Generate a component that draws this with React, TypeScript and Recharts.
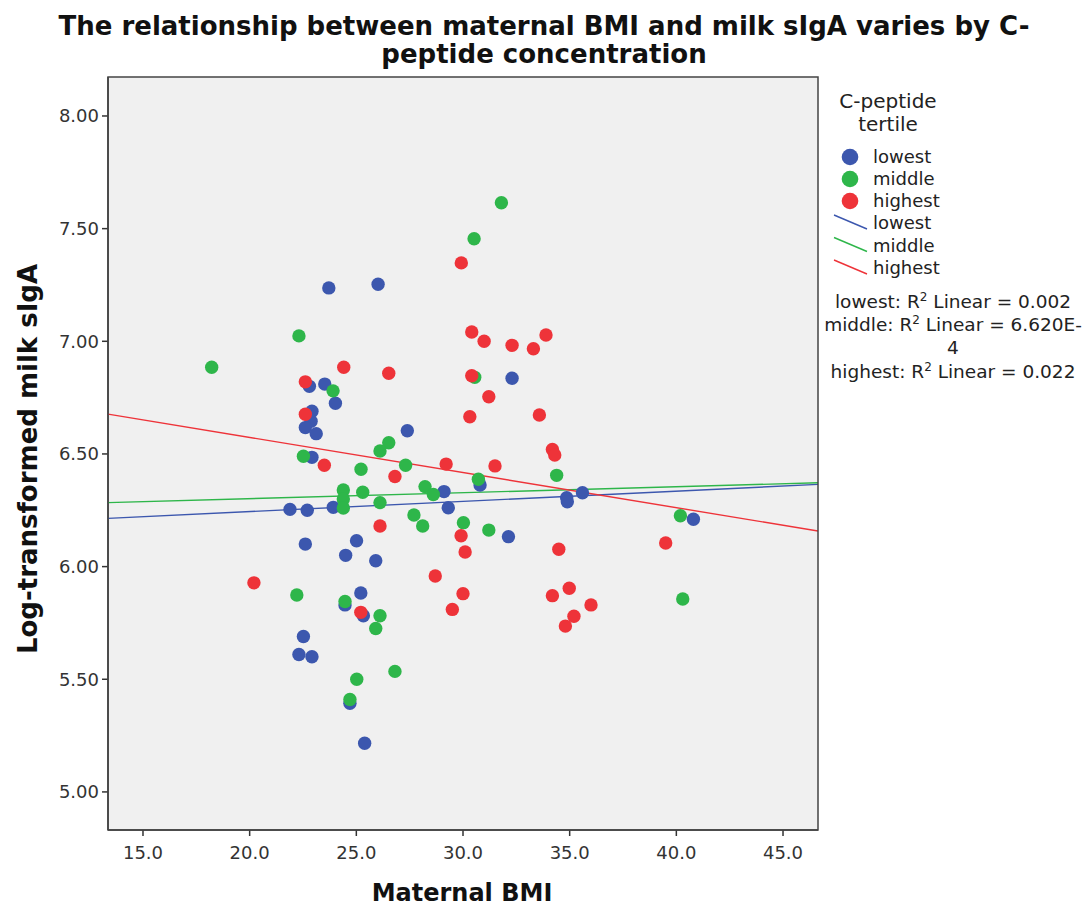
import React from 'react';
import { ScatterChart, Scatter, XAxis, YAxis, CartesianGrid } from 'recharts';

// ---- data ----
const lowestBMI = [23.71, 26.02, 22.80, 23.52, 24.02, 22.92, 22.88, 22.61, 23.12, 22.92, 23.92, 21.89, 22.70, 22.61, 24.50, 24.47, 22.52, 22.31, 22.92, 24.70, 25.39, 27.39, 32.30, 29.11, 30.80, 29.31, 32.13, 25.01, 25.91, 25.21, 25.33, 34.86, 34.89, 35.60, 40.80];
const lowestIgA = [7.237, 7.253, 6.80, 6.81, 6.725, 6.69, 6.645, 6.617, 6.59, 6.485, 6.263, 6.254, 6.25, 6.10, 6.05, 5.83, 5.69, 5.61, 5.60, 5.393, 5.216, 6.603, 6.836, 6.333, 6.362, 6.261, 6.133, 6.115, 6.026, 5.883, 5.782, 6.306, 6.288, 6.328, 6.21];

const middleBMI = [22.31, 18.22, 23.91, 22.52, 24.39, 24.39, 24.39, 22.21, 24.47, 31.80, 30.52, 30.55, 26.52, 26.11, 25.22, 27.31, 25.30, 26.11, 28.22, 28.61, 30.72, 27.70, 28.11, 30.02, 31.21, 26.11, 25.91, 25.02, 26.81, 24.70, 34.39, 40.19, 40.30];
const middleIgA = [7.024, 6.885, 6.78, 6.49, 6.34, 6.30, 6.26, 5.874, 5.845, 7.615, 7.455, 6.84, 6.55, 6.513, 6.432, 6.45, 6.33, 6.284, 6.355, 6.32, 6.388, 6.229, 6.18, 6.195, 6.162, 5.782, 5.725, 5.50, 5.535, 5.41, 6.405, 6.226, 5.856];

const highestBMI = [24.41, 22.61, 22.61, 23.50, 20.20, 29.92, 30.41, 30.99, 32.30, 33.30, 33.89, 26.52, 30.41, 31.21, 30.32, 33.58, 34.19, 34.30, 29.21, 31.50, 26.81, 26.11, 29.91, 30.10, 28.70, 30.00, 29.50, 25.21, 34.49, 34.98, 34.19, 35.20, 34.80, 39.50, 36.00];
const highestIgA = [6.885, 6.82, 6.676, 6.45, 5.928, 7.348, 7.041, 7.00, 6.982, 6.967, 7.028, 6.858, 6.847, 6.754, 6.665, 6.673, 6.52, 6.495, 6.455, 6.447, 6.40, 6.18, 6.137, 6.065, 5.958, 5.88, 5.81, 5.797, 6.077, 5.904, 5.871, 5.78, 5.736, 6.105, 5.83];

// fit lines (endpoints at the plot's x range)
const fitX = [13.36, 46.64];
const lowestFit = [6.214, 6.365];
const middleFit = [6.284, 6.372];
const highestFit = [6.677, 6.158];

const xTicks = [15, 20, 25, 30, 35, 40, 45];
const yTicks = [5.0, 5.5, 6.0, 6.5, 7.0, 7.5, 8.0];
const X_DOMAIN: [number, number] = [13.36, 46.64];
const Y_DOMAIN: [number, number] = [4.831, 8.173];

const groups = ['lowest', 'middle', 'highest'];
const r2Lines = ['lowest: R', ' Linear = 0.002', 'middle: R', ' Linear = 6.620E-', '4', 'highest: R', ' Linear = 0.022'];

// ---- styles ----
const W = 1090;
const H = 906;
const PL = 108, PT = 77, PR = 818, PB = 830;
const FONT = "'DejaVu Sans', sans-serif";
const BLUE = '#3c57ae';
const GREEN = '#2eb64a';
const RED = '#ee3339';
const DOT_R = 6.7;

const toPts = (xs: number[], ys: number[]) => xs.map((x, i) => ({ x, y: ys[i] }));

const dot = (color: string) => (props: any) => (
  <circle cx={props.cx} cy={props.cy} r={DOT_R} fill={color} />
);
const noShape = () => <g />;

export default function App() {
  const tickStyle = { fontSize: 18, fill: '#333', fontFamily: FONT };
  return (
    <div style={{ position: 'absolute', left: 0, top: 0, width: W, height: H, background: '#fff' }}>
      <ScatterChart
        width={W}
        height={H}
        margin={{ top: PT, right: W - PR, bottom: 0, left: 0 }}
      >
        <CartesianGrid horizontal={false} vertical={false} fill="#f0f0f0" />
        <XAxis
          type="number"
          dataKey="x"
          domain={X_DOMAIN}
          allowDataOverflow
          ticks={xTicks}
          tickFormatter={(v: number) => v.toFixed(1)}
          height={H - PB}
          tickSize={6}
          tickMargin={10}
          tick={tickStyle}
          axisLine={{ stroke: '#333', strokeWidth: 1.5 }}
          tickLine={{ stroke: '#333', strokeWidth: 1.5 }}
        />
        <YAxis
          type="number"
          dataKey="y"
          domain={Y_DOMAIN}
          allowDataOverflow
          ticks={yTicks}
          tickFormatter={(v: number) => v.toFixed(2)}
          width={PL}
          tickSize={6}
          tickMargin={3}
          tick={tickStyle}
          axisLine={{ stroke: '#333', strokeWidth: 1.5 }}
          tickLine={{ stroke: '#333', strokeWidth: 1.5 }}
        />
        <Scatter data={toPts(fitX, lowestFit)} line={{ stroke: BLUE, strokeWidth: 1.4 }} shape={noShape} isAnimationActive={false} legendType="none" />
        <Scatter data={toPts(fitX, middleFit)} line={{ stroke: GREEN, strokeWidth: 1.4 }} shape={noShape} isAnimationActive={false} legendType="none" />
        <Scatter data={toPts(fitX, highestFit)} line={{ stroke: RED, strokeWidth: 1.4 }} shape={noShape} isAnimationActive={false} legendType="none" />
        <Scatter data={toPts(lowestBMI, lowestIgA)} shape={dot(BLUE)} isAnimationActive={false} />
        <Scatter data={toPts(middleBMI, middleIgA)} shape={dot(GREEN)} isAnimationActive={false} />
        <Scatter data={toPts(highestBMI, highestIgA)} shape={dot(RED)} isAnimationActive={false} />
      </ScatterChart>
      <svg width={W} height={H} style={{ position: 'absolute', left: 0, top: 0, pointerEvents: 'none' }} fontFamily={FONT}>
        <rect x={PL} y={PT} width={PR - PL} height={PB - PT} fill="none" stroke="#444" strokeWidth={1.5} />
        <text x={544} y={35} textAnchor="middle" fontSize={26} fontWeight="bold" fill="#111">The relationship between maternal BMI and milk sIgA varies by C-</text>
        <text x={544} y={63} textAnchor="middle" fontSize={26} fontWeight="bold" fill="#111">peptide concentration</text>
        <text x={462} y={901} textAnchor="middle" fontSize={24} fontWeight="bold" fill="#111">Maternal BMI</text>
        <text transform="translate(37,459) rotate(-90)" textAnchor="middle" fontSize={26} fontWeight="bold" fill="#111">Log-transformed milk sIgA</text>
        <text x={888} y={108} textAnchor="middle" fontSize={20} fill="#222">C-peptide</text>
        <text x={888} y={131} textAnchor="middle" fontSize={20} fill="#222">tertile</text>
        {[BLUE, GREEN, RED].map((c, i) => (
          <g key={'m' + i}>
            <circle cx={850} cy={157 + i * 22} r={8.3} fill={c} />
            <text x={873} y={163 + i * 22} fontSize={18} fill="#222">{groups[i]}</text>
          </g>
        ))}
        {[BLUE, GREEN, RED].map((c, i) => (
          <g key={'l' + i}>
            <line x1={834} y1={215 + i * 22.5} x2={867} y2={229 + i * 22.5} stroke={c} strokeWidth={1.4} />
            <text x={873} y={229 + i * 22.5} fontSize={18} fill="#222">{groups[i]}</text>
          </g>
        ))}
        <text x={953} y={308} textAnchor="middle" fontSize={18.5} fill="#222">{r2Lines[0]}<tspan dy={-7} fontSize={12}>2</tspan><tspan dy={7}>{r2Lines[1]}</tspan></text>
        <text x={953} y={331} textAnchor="middle" fontSize={18.5} fill="#222">{r2Lines[2]}<tspan dy={-7} fontSize={12}>2</tspan><tspan dy={7}>{r2Lines[3]}</tspan></text>
        <text x={953} y={354} textAnchor="middle" fontSize={18.5} fill="#222">{r2Lines[4]}</text>
        <text x={953} y={378} textAnchor="middle" fontSize={18.5} fill="#222">{r2Lines[5]}<tspan dy={-7} fontSize={12}>2</tspan><tspan dy={7}>{r2Lines[6]}</tspan></text>
      </svg>
    </div>
  );
}
